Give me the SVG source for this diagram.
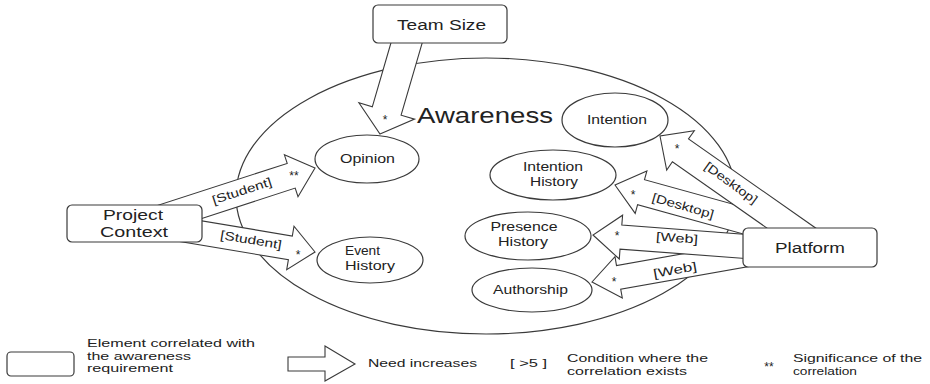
<svg xmlns="http://www.w3.org/2000/svg" width="930" height="384" viewBox="0 0 930 384">
<style>
  .shape { fill: #ffffff; stroke: #3a3a3a; stroke-width: 1.2; }
  .arrow { fill: #ffffff; stroke: #3a3a3a; stroke-width: 1.1; stroke-linejoin: miter; }
  text { font-family: "Liberation Sans", Arial, sans-serif; fill: #222222; }
  .lbl { font-size: 14px; text-anchor: middle; }
  .nd { font-size: 13px; text-anchor: middle; }
  .cond { font-size: 12px; text-anchor: middle; }
  .star { font-size: 12px; text-anchor: middle; }
  .leg { font-size: 11.5px; }
</style>
<rect width="930" height="384" fill="#ffffff"/>

<g id="awareness">
  <ellipse class="shape" cx="486" cy="196" rx="250" ry="138"/>
  <text x="485" y="123" font-size="22" text-anchor="middle" textLength="136" lengthAdjust="spacingAndGlyphs">Awareness</text>
</g>

<g id="connectors">
  <g id="arrow-platform-authorship">
    <polygon class="arrow" points="592,282 622.3,298 620.7,289.1 761.5,264.2 757.4,240.6 616.5,265.5 615,256.6"/>
    <text class="star" x="614" y="286">*</text>
    <text class="cond" transform="translate(675,270) rotate(-10)" x="0" y="4" textLength="44" lengthAdjust="spacingAndGlyphs">[Web]</text>
  </g>
  <g id="arrow-platform-presence">
    <polygon class="arrow" points="593,235 619.3,259 620,249.1 761.6,259.7 763.4,235.8 621.8,225.1 622.6,215.2"/>
    <text class="star" x="617" y="240">*</text>
    <text class="cond" transform="translate(677,238) rotate(4)" x="0" y="4" textLength="42" lengthAdjust="spacingAndGlyphs">[Web]</text>
  </g>
  <g id="arrow-platform-intention-history">
    <polygon class="arrow" points="615,185 635.2,213.4 637.6,204.7 765.7,240.2 772.7,215.2 644.5,179.7 646.9,171"/>
    <text class="star" x="633" y="199">*</text>
    <text class="cond" transform="translate(683,206) rotate(16)" x="0" y="4" textLength="64" lengthAdjust="spacingAndGlyphs">[Desktop]</text>
  </g>
  <g id="arrow-platform-intention">
    <polygon class="arrow" points="660,136 666.7,170 672.4,161.8 803.5,253.7 819.5,230.7 688.5,138.9 694.3,130.7"/>
    <text class="star" x="677" y="153">*</text>
    <text class="cond" transform="translate(731,183) rotate(36)" x="0" y="4" textLength="62" lengthAdjust="spacingAndGlyphs">[Desktop]</text>
  </g>
  <g id="arrow-teamsize-opinion">
    <polygon class="arrow" points="380,134 414.6,119.1 401.1,115.2 423.8,37.4 395,29 372.3,106.8 358.9,102.8"/>
    <text class="star" x="385" y="124">*</text>
  </g>
  <g id="arrow-project-opinion">
    <polygon class="arrow" points="315,168 284.4,154.8 287.2,163.4 154.1,206.6 162.1,231.4 295.2,188.1 298,196.7"/>
    <text class="star" x="294" y="180">**</text>
    <text class="cond" transform="translate(242,191) rotate(-18)" x="0" y="4" textLength="62" lengthAdjust="spacingAndGlyphs">[Student]</text>
  </g>
  <g id="arrow-project-event">
    <polygon class="arrow" points="315,252 294,226.2 292.3,236 169.1,215.4 165.1,239.1 288.4,259.7 286.7,269.6"/>
    <text class="star" x="298" y="259">*</text>
    <text class="cond" transform="translate(251,240) rotate(9.5)" x="0" y="4" textLength="62" lengthAdjust="spacingAndGlyphs">[Student]</text>
  </g>
</g>

<g id="team-size">
  <rect class="shape" x="373" y="5" width="134" height="38" rx="5"/>
  <text class="lbl" x="441.5" y="30" textLength="89" lengthAdjust="spacingAndGlyphs">Team Size</text>
</g>

<g id="project-context">
  <rect class="shape" x="67" y="205" width="135" height="37" rx="5"/>
  <text class="lbl" x="133" y="220" textLength="60" lengthAdjust="spacingAndGlyphs">Project</text>
  <text class="lbl" x="134" y="237" textLength="68" lengthAdjust="spacingAndGlyphs">Context</text>
</g>

<g id="platform">
  <rect class="shape" x="743" y="228" width="134" height="39" rx="5"/>
  <text class="lbl" x="810" y="253" textLength="70" lengthAdjust="spacingAndGlyphs">Platform</text>
</g>

<g id="opinion">
  <ellipse class="shape" cx="367" cy="159" rx="52" ry="24"/>
  <text class="nd" x="367.5" y="163" textLength="55" lengthAdjust="spacingAndGlyphs">Opinion</text>
</g>

<g id="event-history">
  <ellipse class="shape" cx="370" cy="260" rx="53" ry="23"/>
  <text class="nd" x="362.5" y="255" textLength="35" lengthAdjust="spacingAndGlyphs">Event</text>
  <text class="nd" x="370" y="270" textLength="50" lengthAdjust="spacingAndGlyphs">History</text>
</g>

<g id="intention">
  <ellipse class="shape" cx="615" cy="120" rx="53" ry="27"/>
  <text class="nd" x="617" y="124" textLength="60" lengthAdjust="spacingAndGlyphs">Intention</text>
</g>

<g id="intention-history">
  <ellipse class="shape" cx="553" cy="175" rx="63" ry="25"/>
  <text class="nd" x="553" y="171" textLength="60" lengthAdjust="spacingAndGlyphs">Intention</text>
  <text class="nd" x="554" y="186" textLength="48" lengthAdjust="spacingAndGlyphs">History</text>
</g>

<g id="presence-history">
  <ellipse class="shape" cx="528" cy="236" rx="63" ry="24"/>
  <text class="nd" x="524" y="231" textLength="67" lengthAdjust="spacingAndGlyphs">Presence</text>
  <text class="nd" x="523" y="246" textLength="50" lengthAdjust="spacingAndGlyphs">History</text>
</g>

<g id="authorship">
  <ellipse class="shape" cx="532" cy="290" rx="60" ry="22"/>
  <text class="nd" x="530.5" y="294" textLength="75" lengthAdjust="spacingAndGlyphs">Authorship</text>
</g>

<g id="legend">
  <rect class="shape" x="7" y="352" width="67" height="24" rx="4"/>
  <text class="leg" x="87" y="347" textLength="168" lengthAdjust="spacingAndGlyphs">Element correlated with</text>
  <text class="leg" x="87" y="360" textLength="104" lengthAdjust="spacingAndGlyphs">the awareness</text>
  <text class="leg" x="87" y="372" textLength="86" lengthAdjust="spacingAndGlyphs">requirement</text>
  <polygon class="arrow" points="288,357 325,357 325,346 355,364 325,381 325,371 288,371"/>
  <text class="leg" x="368" y="367" textLength="109" lengthAdjust="spacingAndGlyphs">Need increases</text>
  <text class="leg" x="510" y="367" textLength="37" lengthAdjust="spacingAndGlyphs">[ &gt;5 ]</text>
  <text class="leg" x="567" y="362" textLength="141" lengthAdjust="spacingAndGlyphs">Condition where the</text>
  <text class="leg" x="567" y="375" textLength="120" lengthAdjust="spacingAndGlyphs">correlation exists</text>
  <text class="star" x="769" y="371">**</text>
  <text class="leg" x="793" y="362" textLength="129" lengthAdjust="spacingAndGlyphs">Significance of the</text>
  <text class="leg" x="793" y="375" textLength="64" lengthAdjust="spacingAndGlyphs">correlation</text>
</g>
</svg>
